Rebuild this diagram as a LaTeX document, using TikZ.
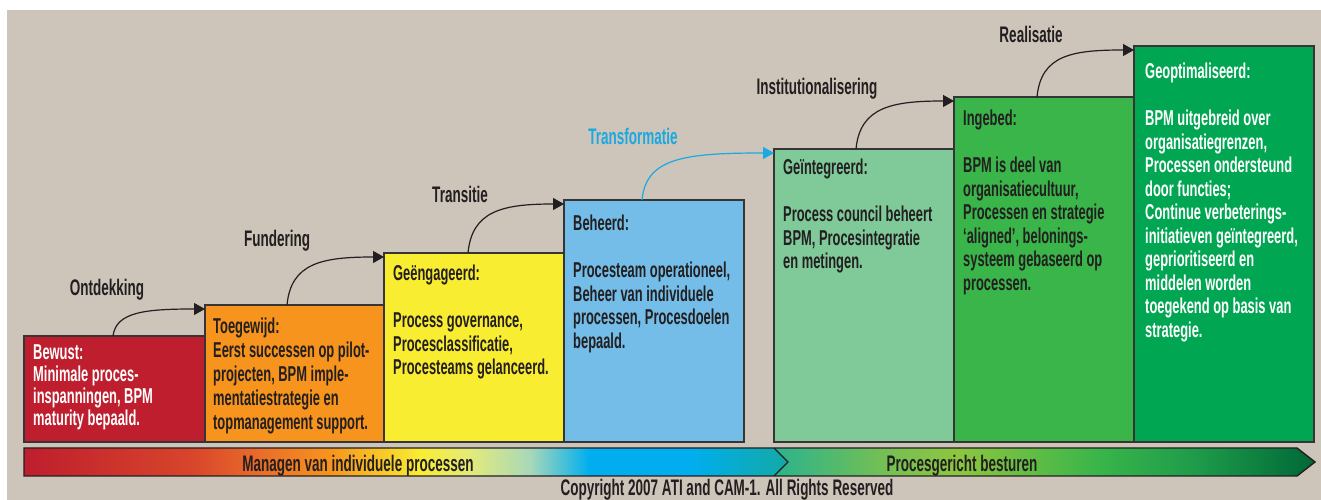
\documentclass[tikz,border=0pt]{standalone}
\usepackage{fontspec}
\setmainfont{Liberation Sans}[FakeStretch=0.6]
\usetikzlibrary{arrows.meta}

\definecolor{paper}{HTML}{CDC4BA}
\definecolor{ink}{HTML}{231F20}
\definecolor{rim}{HTML}{363435}
\definecolor{bewustred}{HTML}{BE1E2D}
\definecolor{toegewijdorange}{HTML}{F7941D}
\definecolor{engageyellow}{HTML}{F9ED32}
\definecolor{beheerdblue}{HTML}{74BDE8}
\definecolor{integreerdgreen}{HTML}{80CA9A}
\definecolor{ingebedgreen}{HTML}{39B54A}
\definecolor{optimaalgreen}{HTML}{00A651}
\definecolor{transfoblue}{HTML}{1BA9E1}
%% band stops
\definecolor{bandA}{HTML}{D8452B}
\definecolor{bandB}{HTML}{E8692A}
\definecolor{bandC}{HTML}{E3EA7A}
\definecolor{bandD}{HTML}{A8D8B9}
\definecolor{bandE}{HTML}{00AEEF}
\definecolor{bandF}{HTML}{13A9A5}
\definecolor{bandG}{HTML}{2BB38D}
\definecolor{bandH}{HTML}{72BF55}
\definecolor{bandI}{HTML}{8DC63F}
\definecolor{bandJ}{HTML}{1E9B4A}
\definecolor{bandK}{HTML}{006837}

%% band shadings (path box is mapped on 25bp..75bp)
\pgfdeclarehorizontalshading{managen}{100bp}{%
  color(0bp)=(bewustred); color(25bp)=(bewustred);
  color(36bp)=(bandA); color(40bp)=(bandB); color(45bp)=(toegewijdorange);
  color(50.9bp)=(engageyellow); color(54.2bp)=(bandC);
  color(58.1bp)=(bandD); color(62bp)=(bandE);
  color(68.6bp)=(bandE); color(75bp)=(bandF); color(100bp)=(bandF)}
\pgfdeclarehorizontalshading{besturen}{100bp}{%
  color(0bp)=(bandG); color(25bp)=(bandG);
  color(34.8bp)=(bandH); color(42bp)=(bandI);
  color(55bp)=(ingebedgreen); color(64bp)=(bandJ);
  color(75bp)=(bandK); color(100bp)=(bandK)}

\tikzset{
  stage/.style={draw=rim, line width=1.3pt, inner sep=0pt, outer sep=0pt,
    anchor=south west, minimum width=180pt},
  stagetext/.style={anchor=north west, inner sep=0pt, align=left, text=ink,
    font=\bfseries\fontsize{21.5}{23.5}\selectfont},
  phase/.style={anchor=base, inner sep=0pt, text=ink,
    font=\bfseries\fontsize{22.5}{24}\selectfont},
  climb/.style={draw=ink, line width=1.2pt, -{Triangle[length=11pt,width=12pt]}},
}

\begin{document}
\begin{tikzpicture}[x=1pt,y=1pt]

\newcommand\GROUND{58}
\newcommand\GAP{23.5pt}

  %% canvas
  \useasboundingbox (0,0) rectangle (1321,500);
  \fill[paper] (7,0) rectangle (1321,490);

  %% stages
  \node[stage, fill=bewustred, minimum width=181pt, minimum height=106pt]
  (bewust) at (24,\GROUND) {};
  \node[stage, fill=toegewijdorange, minimum width=179pt, minimum height=137pt]
  (toegewijd) at (205,\GROUND) {};
  \node[stage, fill=engageyellow, minimum height=189pt]
  (engaged) at (384,\GROUND) {};
  \node[stage, fill=beheerdblue, minimum height=242pt]
  (beheerd) at (564,\GROUND) {};
  \node[stage, fill=integreerdgreen, minimum height=293pt]
  (integreerd) at (774,\GROUND) {};
  \node[stage, fill=ingebedgreen, minimum height=345pt]
  (ingebed) at (954,\GROUND) {};
  \node[stage, fill=optimaalgreen, minimum height=396pt]
  (optimaal) at (1134,\GROUND) {};

  %% stage texts
  \node[stagetext, text=white, font=\bfseries\fontsize{21.5}{22}\selectfont]
  (bewusttxt) at ([xshift=9pt,yshift=-9pt]bewust.north west)
  {Bewust:\\Minimale proces-\\inspanningen, BPM\\maturity bepaald.};
  \node[stagetext, font=\bfseries\fontsize{21.5}{24}\selectfont]
  (toegewijdtxt) at ([xshift=8pt,yshift=-13pt]toegewijd.north west)
  {Toegewijd:\\Eerst successen op pilot-\\projecten, BPM imple-\\mentatiestrategie en\\topmanagement support.};
  \node[stagetext] (engagedtxt) at ([xshift=9pt,yshift=-12pt]engaged.north west)
  {Geëngageerd:\\[\GAP]Process governance,\\Procesclassificatie,\\Procesteams gelanceerd.};
  \node[stagetext] (beheerdtxt) at ([xshift=9pt,yshift=-15pt]beheerd.north west)
  {Beheerd:\\[\GAP]Procesteam operationeel,\\Beheer van individuele\\processen, Procesdoelen\\bepaald.};
  \node[stagetext] (integreerdtxt) at ([xshift=9pt,yshift=-10pt]integreerd.north west)
  {Geïntegreerd:\\[\GAP]Process council beheert\\BPM, Procesintegratie\\en metingen.};
  \node[stagetext] (ingebedtxt) at ([xshift=9pt,yshift=-13pt]ingebed.north west)
  {Ingebed:\\[\GAP]BPM is deel van\\organisatiecultuur,\\Processen en strategie\\‘aligned’, belonings-\\systeem gebaseerd op\\processen.};
  \node[stagetext, text=white] (optimaaltxt) at ([xshift=11pt,yshift=-17pt]optimaal.north west)
  {Geoptimaliseerd:\\[\GAP]BPM uitgebreid over\\organisatiegrenzen,\\Processen ondersteund\\door functies;\\Continue verbeterings-\\initiatieven geïntegreerd,\\geprioritiseerd en\\middelen worden\\toegekend op basis van\\strategie.};

  %% phase labels
  \node[phase] (ontdekking) at (107,204) {Ontdekking};
  \node[phase] (fundering) at (277,253) {Fundering};
  \node[phase] (transitie) at (460,297) {Transitie};
  \node[phase, text=transfoblue] (transformatie) at (633,355) {Transformatie};
  \node[phase] (institutie) at (817,405) {Institutionalisering};
  \node[phase] (realisatie) at (1031,457) {Realisatie};

  %% step arrows
  \draw[climb] ([xshift=89pt]bewust.north west)
  .. controls +(3,24) and +(-60,0) .. ([yshift=-4pt]toegewijd.north west); %% Ontdekking
  \draw[climb] ([xshift=82pt]toegewijd.north west)
  .. controls +(4,42) and +(-62,0) .. ([yshift=-4pt]engaged.north west); %% Fundering
  \draw[climb] ([xshift=84pt]engaged.north west)
  .. controls +(4,42) and +(-62,0) .. ([yshift=-4pt]beheerd.north west); %% Transitie
  \draw[climb, draw=transfoblue] ([xshift=78pt]beheerd.north west)
  .. controls +(4,42) and +(-90,0) .. ([yshift=-4pt]integreerd.north west); %% Transformatie
  \draw[climb] ([xshift=82pt]integreerd.north west)
  .. controls +(4,42) and +(-62,0) .. ([yshift=-4pt]ingebed.north west); %% Institutionalisering
  \draw[climb] ([xshift=83pt]ingebed.north west)
  .. controls +(4,42) and +(-62,0) .. ([yshift=-4pt]optimaal.north west); %% Realisatie

  %% band
  \shade[shading=managen] (24,24) -- (774,24) -- (788,38) -- (774,52) -- (24,52) -- cycle;
  \shade[shading=besturen] (774,24) -- (1297,24) -- (1315,38) -- (1297,52) -- (774,52)
  -- (788,38) -- cycle;
  \draw[ink, line width=1.4pt, line join=miter] (24,24) -- (1297,24) -- (1315,38)
  -- (1297,52) -- (24,52) -- cycle;
  \draw[ink, line width=1.2pt] (774,52) -- (788,38) -- (774,24);

  \node[phase] (managen) at (358,28) {Managen van individuele processen};
  \node[phase] (besturen) at (962,28) {Procesgericht besturen};

  %% copyright
  \node[phase] (copyright) at (727,4.5) {Copyright 2007 ATI and CAM-1. All Rights Reserved};

\end{tikzpicture}
\end{document}
